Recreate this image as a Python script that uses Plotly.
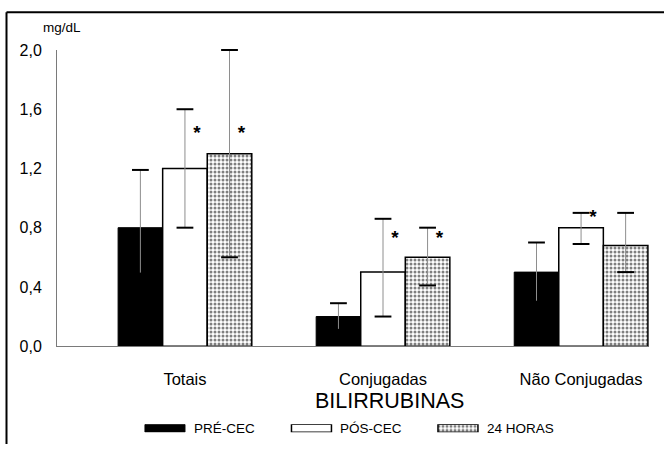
import numpy as np
import plotly.graph_objects as go

# ---- data -------------------------------------------------------------
categories = ["Totais", "Conjugadas", "Não Conjugadas"]
series_names = ["PRÉ-CEC", "PÓS-CEC", "24 HORAS"]

pre_cec = [0.80, 0.20, 0.50]
pre_cec_hi = [1.19, 0.29, 0.70]
pre_cec_lo = [0.49, 0.11, 0.30]

pos_cec = [1.20, 0.50, 0.80]
pos_cec_hi = [1.60, 0.86, 0.90]
pos_cec_lo = [0.80, 0.20, 0.69]

h24 = [1.30, 0.60, 0.68]
h24_hi = [2.00, 0.80, 0.90]
h24_lo = [0.60, 0.41, 0.50]

# significance markers (height of the asterisk, None = no marker)
pos_cec_star = [1.43, 0.72, 0.865]
h24_star = [1.43, 0.72, None]

y_ticks = [0.0, 0.4, 0.8, 1.2, 1.6, 2.0]

# ---- styling ----------------------------------------------------------
FONT = "Liberation Sans, Arial, sans-serif"
BAR_W = 0.225
AXIS_GRAY = "#7a7a7a"
ERR_GRAY = "#8e8e8e"

dots = dict(shape=".", size=4, solidity=0.45, fgcolor="black",
            bgcolor="white", fillmode="overlay")
styles = [
    dict(color="black", line=dict(color="black", width=1)),
    dict(color="white", line=dict(color="black", width=1.5)),
    dict(color="white", pattern=dots, line=dict(color="black", width=1.5)),
]

values = [pre_cec, pos_cec, h24]
highs = [pre_cec_hi, pos_cec_hi, h24_hi]
lows = [pre_cec_lo, pos_cec_lo, h24_lo]
stars = [[None, None, None], pos_cec_star, h24_star]

x_base = np.arange(len(categories), dtype=float)

fig = go.Figure()

for i, (name, v, hi, lo, st) in enumerate(zip(series_names, values, highs, lows, stars)):
    v = np.array(v)
    hi = np.array(hi)
    lo = np.array(lo)
    offset = (i - 1.5) * BAR_W
    xc = x_base + (i - 1) * BAR_W

    # bars with thin grey whiskers
    fig.add_trace(go.Bar(
        x=x_base, y=v, width=BAR_W, offset=offset, name=name,
        marker=styles[i], showlegend=False,
        error_y=dict(type="data", symmetric=False, array=hi - v,
                     arrayminus=v - lo, color=ERR_GRAY, thickness=1, width=0),
    ))
    # whisker caps
    fig.add_trace(go.Scatter(
        x=np.concatenate([xc, xc]), y=np.concatenate([hi, lo]),
        mode="markers", showlegend=False, cliponaxis=False,
        marker=dict(symbol="line-ew", size=12, color="black",
                    line=dict(color="black", width=2)),
    ))
    # asterisks
    sx = [x + 0.06 for x, s in zip(xc, st) if s is not None]
    sy = [s for s in st if s is not None]
    if sx:
        fig.add_trace(go.Scatter(
            x=sx, y=sy, mode="text", text=["<b>*</b>"] * len(sx),
            textposition="middle center", showlegend=False, cliponaxis=False,
            textfont=dict(family=FONT, size=19, color="black"),
        ))

# ---- custom legend row (separate hidden axis) ----------------------------
LEG_W = 0.273
for i, name in enumerate(series_names):
    fig.add_trace(go.Bar(
        x=[i], y=[1], width=LEG_W, offset=-LEG_W / 2, marker=styles[i],
        xaxis="x2", yaxis="y2", showlegend=False, hoverinfo="skip",
    ))
    fig.add_annotation(
        x=i + LEG_W / 2, y=0.5, xref="x2", yref="y2", text=name,
        xanchor="left", yanchor="middle", xshift=7, showarrow=False,
        font=dict(family=FONT, size=13.5, color="black"),
    )

# ---- layout -------------------------------------------------------------
W, H = 664, 453
ML, MR, MT, MB = 57, 15, 50, 5
plot_h = H - MT - MB
plot_w = W - ML - MR


def px_x(px):
    return (px - ML) / plot_w


def px_y(py):
    return (H - MB - py) / plot_h


fig.update_layout(
    width=W, height=H, autosize=False,
    margin=dict(l=ML, r=MR, t=MT, b=MB),
    paper_bgcolor="white", plot_bgcolor="white",
    barmode="overlay", separators=",.",
    font=dict(family=FONT, size=14, color="black"),
    xaxis=dict(
        range=[-0.646, 2.343], tickvals=list(x_base), ticktext=categories,
        showline=True, linecolor=AXIS_GRAY, linewidth=1, ticks="",
        showgrid=False, zeroline=False, ticklabelstandoff=18,
        tickfont=dict(family=FONT, size=16.5, color="black"), fixedrange=True,
    ),
    yaxis=dict(
        domain=[px_y(353), 1], range=[0, 2], tickvals=y_ticks,
        tickformat=".1f", showline=True, linecolor=AXIS_GRAY, linewidth=1,
        ticks="", showgrid=False, zeroline=False, ticklabelstandoff=11,
        tickfont=dict(family=FONT, size=16, color="black"),
    ),
    xaxis2=dict(domain=[0, 1], anchor="y2", range=[-0.737, 3.304], visible=False),
    yaxis2=dict(domain=[px_y(441), px_y(433)], anchor="x2", range=[0, 1], visible=False),
)

# axis annotations
fig.add_annotation(
    x=px_x(41), y=px_y(27), xref="paper", yref="paper", text="mg/dL",
    xanchor="left", yanchor="middle", showarrow=False,
    font=dict(family=FONT, size=13.5, color="black"),
)
fig.add_annotation(
    x=px_x(389), y=px_y(409), xref="paper", yref="paper", text="BILIRRUBINAS",
    xanchor="center", yanchor="middle", showarrow=False,
    font=dict(family=FONT, size=21.5, color="black"),
)

# page frame (left and top rules)
fig.add_shape(type="line", xref="paper", yref="paper",
              x0=px_x(6.5), x1=px_x(6.5), y0=px_y(11.5), y1=px_y(453),
              line=dict(color="black", width=2))
fig.add_shape(type="line", xref="paper", yref="paper",
              x0=px_x(6.5), x1=px_x(664), y0=px_y(11.5), y1=px_y(11.5),
              line=dict(color="black", width=2))

fig.write_html("out.html")
